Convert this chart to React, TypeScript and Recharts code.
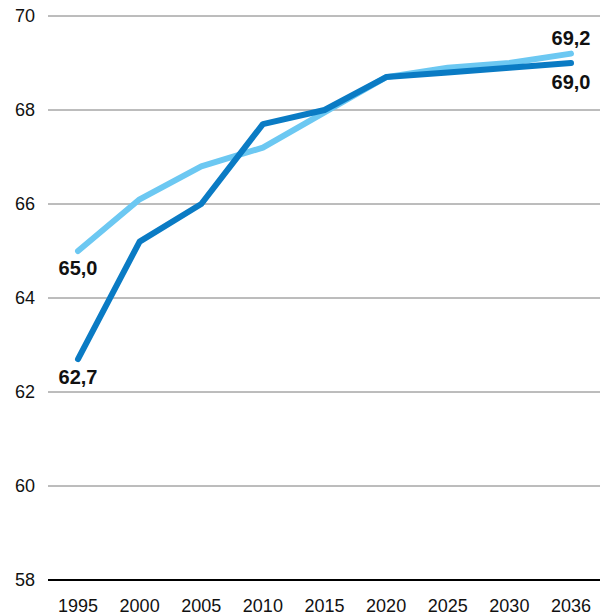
import React from "react";
import { LineChart, Line, XAxis, YAxis, CartesianGrid } from "recharts";

const years = ["1995", "2000", "2005", "2010", "2015", "2020", "2025", "2030", "2036"];
const seriesDark = [62.7, 65.2, 66.0, 67.7, 68.0, 68.7, 68.8, 68.9, 69.0];
const seriesLight = [65.0, 66.1, 66.8, 67.2, 67.95, 68.7, 68.9, 69.0, 69.2];
const yTicks = [58, 60, 62, 64, 66, 68, 70];

const data = years.map((y, i) => ({ year: y, dark: seriesDark[i], light: seriesLight[i] }));

const fmt = (v: number) => v.toFixed(1).replace(".", ",");
const FONT = "'Liberation Sans', Arial, sans-serif";

const makeLabel = (firstDy: number, lastDy: number) => (props: any) => {
  const { x, y, value, index } = props;
  if (index !== 0 && index !== years.length - 1) return null;
  const dy = index === 0 ? firstDy : lastDy;
  return (
    <text
      key={index}
      x={x}
      y={y + dy}
      textAnchor="middle"
      dominantBaseline="central"
      fontSize={20}
      fontWeight="bold"
      fill="#111"
      fontFamily={FONT}
    >
      {fmt(value)}
    </text>
  );
};

export default function App() {
  return (
    <div style={{ position: "absolute", left: 0, top: 0 }}>
      <LineChart
        width={613}
        height={616}
        data={data}
        margin={{ top: 16, right: 13, bottom: 0, left: 0 }}
        style={{ fontFamily: FONT }}
      >
        <CartesianGrid horizontal vertical={false} stroke="#7a7a7a" strokeWidth={1} />
        <XAxis
          dataKey="year"
          padding={{ left: 30, right: 29 }}
          height={36}
          tickLine={false}
          tickSize={0}
          tickMargin={19}
          axisLine={{ stroke: "#000", strokeWidth: 2 }}
          tick={{ fill: "#111", fontSize: 18 }}
          interval={0}
        />
        <YAxis
          domain={[58, 70]}
          ticks={yTicks}
          width={48}
          axisLine={false}
          tickLine={false}
          tickSize={0}
          tickMargin={13}
          tick={{ fill: "#111", fontSize: 18 }}
        />
        <Line
          dataKey="light"
          stroke="#6cc8f2"
          strokeWidth={6}
          strokeLinecap="round"
          strokeLinejoin="round"
          dot={false}
          isAnimationActive={false}
          label={makeLabel(17, -16)}
        />
        <Line
          dataKey="dark"
          stroke="#0a7bc4"
          strokeWidth={6}
          strokeLinecap="round"
          strokeLinejoin="round"
          dot={false}
          isAnimationActive={false}
          label={makeLabel(18, 19)}
        />
      </LineChart>
    </div>
  );
}
